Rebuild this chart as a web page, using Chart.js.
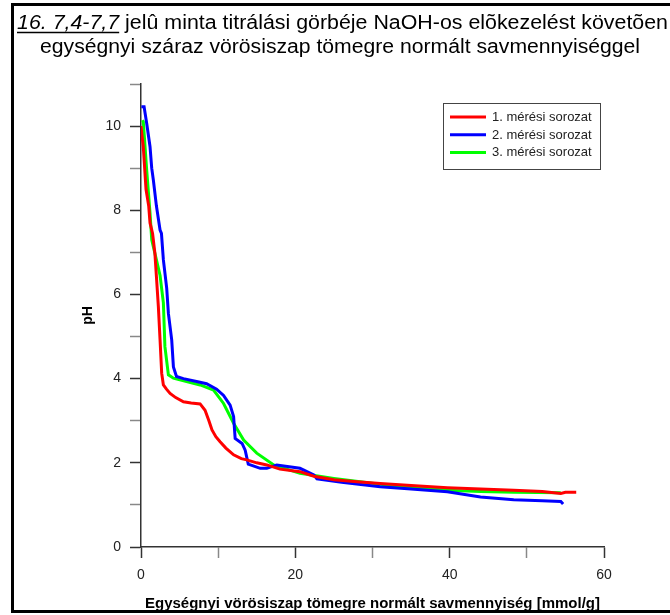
<!DOCTYPE html>
<html lang="hu">
<head>
    <meta charset="UTF-8">
    <title>Titrálási görbe</title>
    <script src="https://cdn.jsdelivr.net/npm/chart.js"></script>
    <style>
        html, body { margin: 0; padding: 0; background: #fff; }
    </style>
</head>
<body>
    <canvas id="myChart" width="670" height="615"></canvas>

    <script>
        // mérési adatok (x: mmol/g, y: pH)
        const series1X = [0.0, 0.3, 0.65, 1.0, 1.17, 1.5, 1.8, 2.0, 2.25, 2.47, 2.68, 2.9, 3.3, 3.77, 4.5, 5.5, 6.5, 7.66, 8.3, 8.8, 9.2, 9.7, 10.25, 11.0, 12.0, 13.0, 13.7, 15.0, 16.3, 18.0, 20.6, 22.4, 25.0, 28.0, 31.0, 35.0, 39.7, 44.0, 48.3, 52.0, 54.4, 55.0, 56.4];
        const series1pH = [10.0, 9.5, 8.5, 8.1, 7.7, 7.45, 6.98, 6.42, 5.71, 4.92, 4.13, 3.85, 3.75, 3.65, 3.55, 3.45, 3.42, 3.40, 3.25, 3.0, 2.78, 2.62, 2.50, 2.35, 2.19, 2.10, 2.07, 2.0, 1.95, 1.85, 1.79, 1.68, 1.60, 1.55, 1.51, 1.46, 1.41, 1.38, 1.35, 1.32, 1.27, 1.30, 1.30];

        const series2X = [0.05, 0.4, 0.74, 1.17, 1.39, 1.6, 2.0, 2.47, 2.65, 2.9, 3.33, 3.55, 3.98, 4.2, 4.6, 5.5, 7.2, 8.5, 9.8, 10.7, 11.55, 12.0, 12.2, 13.1, 13.5, 13.9, 15.45, 16.3, 17.6, 20.6, 22.4, 22.8, 26.0, 31.0, 35.0, 39.7, 44.0, 48.3, 52.0, 54.4, 54.7];
        const series2pH = [10.46, 10.46, 10.06, 9.51, 9.0, 8.72, 8.1, 7.53, 7.45, 6.82, 6.15, 5.55, 4.92, 4.28, 4.05, 4.0, 3.93, 3.88, 3.75, 3.6, 3.37, 3.1, 2.58, 2.46, 2.3, 1.97, 1.87, 1.87, 1.95, 1.87, 1.71, 1.62, 1.54, 1.43, 1.38, 1.31, 1.19, 1.12, 1.10, 1.08, 1.02];

        const series3X = [0.2, 0.3, 0.74, 1.17, 1.39, 1.5, 2.0, 2.47, 2.9, 3.1, 3.55, 4.2, 5.9, 7.66, 9.4, 10.7, 12.0, 13.3, 15.0, 17.2, 20.6, 25.0, 31.0, 35.0, 39.7, 44.0, 48.3, 54.4];
        const series3pH = [10.14, 10.1, 8.95, 7.93, 7.3, 7.21, 6.82, 6.45, 5.8, 4.76, 4.09, 4.01, 3.93, 3.85, 3.73, 3.41, 2.94, 2.54, 2.23, 1.95, 1.75, 1.63, 1.49, 1.42, 1.35, 1.32, 1.30, 1.29];

        const seriesLabels = ['1. mérési sorozat', '2. mérési sorozat', '3. mérési sorozat'];
        const seriesColors = ['#ff0000', '#0000ff', '#00ff00'];

        const titleItalic = '16. 7,4-7,7';
        const titleRest = ' jelû minta titrálási görbéje NaOH-os elõkezelést követõen';
        const titleLine2 = 'egységnyi száraz vörösiszap tömegre normált savmennyiséggel';
        const xTitle = 'Egységnyi vörösiszap tömegre normált savmennyiség [mmol/g]';

        const FONT = '"Liberation Sans", Arial, sans-serif';

        function toPoints(xs, ys) {
            return xs.map((x, i) => ({x: x, y: ys[i]}));
        }

        // szöveg adott szélességre nyújtva
        function fitText(ctx, text, x, y, width, align) {
            const w = ctx.measureText(text).width;
            ctx.save();
            ctx.translate(x, y);
            ctx.scale(width / w, 1);
            ctx.textAlign = align;
            ctx.fillText(text, 0, 0);
            ctx.restore();
        }

        // keret, cím, tengelycím, jelmagyarázat
        const decorations = {
            id: 'decorations',
            afterDraw: (chart) => {
                const ctx = chart.ctx;
                ctx.save();

                // keret
                ctx.strokeStyle = '#000';
                ctx.lineWidth = 3;
                ctx.strokeRect(12.5, 4.5, 700, 607);

                // cím, 1. sor: dőlt+aláhúzott rész és a többi
                ctx.fillStyle = '#000';
                ctx.textBaseline = 'alphabetic';
                ctx.textAlign = 'left';
                ctx.font = 'italic 20px ' + FONT;
                const wItal = ctx.measureText(titleItalic).width;
                ctx.font = '20px ' + FONT;
                const wRest = ctx.measureText(titleRest).width;
                const sx1 = 651 / (wItal + wRest);
                ctx.save();
                ctx.translate(17, 29);
                ctx.scale(sx1, 1);
                ctx.font = 'italic 20px ' + FONT;
                ctx.fillText(titleItalic, 0, 0);
                ctx.font = '20px ' + FONT;
                ctx.fillText(titleRest, wItal, 0);
                ctx.restore();
                ctx.lineWidth = 1.5;
                ctx.beginPath();
                ctx.moveTo(17, 32.5);
                ctx.lineTo(17 + wItal * sx1, 32.5);
                ctx.stroke();

                // 2. sor
                fitText(ctx, titleLine2, 340, 53, 600, 'center');

                // x tengely címe
                ctx.font = 'bold 14.5px ' + FONT;
                fitText(ctx, xTitle, 145, 608, 455, 'left');

                // jelmagyarázat
                ctx.strokeStyle = '#444';
                ctx.lineWidth = 1;
                ctx.strokeRect(443.5, 103.5, 157, 66);
                ctx.font = '13px ' + FONT;
                ctx.textAlign = 'left';
                ctx.textBaseline = 'middle';
                seriesLabels.forEach((lab, i) => {
                    const y = 117 + i * 17.7;
                    ctx.strokeStyle = seriesColors[i];
                    ctx.lineWidth = 3;
                    ctx.beginPath();
                    ctx.moveTo(450, y);
                    ctx.lineTo(486, y);
                    ctx.stroke();
                    ctx.fillStyle = '#222';
                    ctx.fillText(lab, 492, y + 0.5);
                });
                ctx.restore();
            }
        };

        const ctx = document.getElementById('myChart');

        new Chart(ctx, {
            type: 'line',
            data: {
                datasets: [
                    {label: seriesLabels[0], data: toPoints(series1X, series1pH), borderColor: seriesColors[0], borderWidth: 3, pointRadius: 0, tension: 0},
                    {label: seriesLabels[1], data: toPoints(series2X, series2pH), borderColor: seriesColors[1], borderWidth: 3, pointRadius: 0, tension: 0},
                    {label: seriesLabels[2], data: toPoints(series3X, series3pH), borderColor: seriesColors[2], borderWidth: 3, pointRadius: 0, tension: 0}
                ]
            },
            options: {
                responsive: false,
                animation: false,
                layout: {
                    padding: {top: 84, right: 66, left: 0, bottom: 0}
                },
                scales: {
                    x: {
                        type: 'linear',
                        min: 0,
                        max: 60,
                        afterFit: (scale) => { scale.height = 68; },
                        border: {color: '#333', width: 1.5},
                        grid: {
                            drawOnChartArea: false,
                            tickLength: 11,
                            tickColor: (c) => (c.tick && c.tick.value % 20 !== 0) ? '#888' : '#333',
                            tickWidth: 1.5
                        },
                        ticks: {
                            stepSize: 10,
                            autoSkip: false,
                            maxRotation: 0,
                            padding: 9,
                            color: '#222',
                            font: {family: FONT, size: 14},
                            callback: (v) => v % 20 === 0 ? v : ''
                        },
                        title: {display: false}
                    },
                    y: {
                        min: 0,
                        max: 11,
                        afterFit: (scale) => { scale.width = 141; },
                        border: {color: '#333', width: 1.5},
                        grid: {
                            drawOnChartArea: false,
                            tickLength: 11,
                            tickColor: (c) => (c.tick && c.tick.value % 2 !== 0) ? '#888' : '#333',
                            tickWidth: 1.5
                        },
                        ticks: {
                            stepSize: 1,
                            autoSkip: false,
                            padding: 9,
                            color: '#222',
                            font: {family: FONT, size: 14},
                            callback: (v) => v % 2 === 0 ? v : ''
                        },
                        title: {
                            display: true,
                            text: 'pH',
                            color: '#000',
                            font: {family: FONT, size: 14, weight: 'bold'},
                            padding: {top: 80, bottom: 0}
                        }
                    }
                },
                plugins: {
                    legend: {display: false},
                    tooltip: {enabled: false}
                }
            },
            plugins: [decorations]
        });
    </script>
</body>
</html>
